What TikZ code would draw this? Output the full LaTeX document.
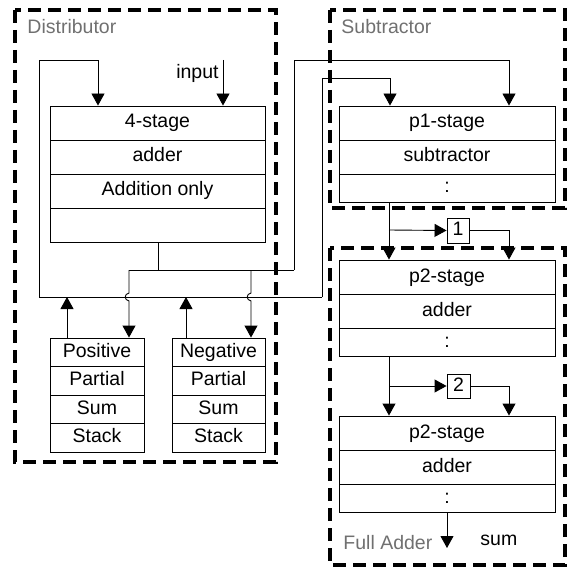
\documentclass[tikz,border=0pt]{standalone}
\usepackage{fontspec}
\setmainfont{Liberation Sans}
\usetikzlibrary{arrows.meta}
\definecolor{lblgray}{HTML}{707070}
\begin{document}
\begin{tikzpicture}[x=1pt,y=-1pt,line width=0.9pt,
  txt/.style={font=\fontsize{19.5}{22}\selectfont},
  cell/.style={draw=black, line width=0.9pt, inner sep=0pt, minimum width=216pt, minimum height=34pt, txt, text height=14pt, text depth=4pt},
  scell/.style={cell, minimum width=94pt, minimum height=28.5pt},
  small/.style={cell, minimum width=22pt, minimum height=25pt},
  arr/.style={-{Triangle[length=12pt,width=13pt]}},
  grp/.style={line width=3.2pt, dash pattern=on 13pt off 7pt},
  grplbl/.style={txt, text=lblgray, anchor=west, inner sep=0pt}
]
\useasboundingbox (0,0) rectangle (576,567);

% group frames
\draw[grp] (15,10) rectangle (276,462);
\draw[grp] (330,10) rectangle (565,208);
\draw[grp] (330,248) rectangle (565,565);
\node[grplbl] (gD) at (27,27) {Distributor};
\node[grplbl] (gS) at (341,27) {Subtractor};
\node[grplbl] (gF) at (343,543) {Full Adder};

% 4-stage adder
\node[cell, minimum width=215pt] (a1) at (157.5,123) {4-stage};
\node[cell, minimum width=215pt] (a2) at (157.5,157) {adder};
\node[cell, minimum width=215pt] (a3) at (157.5,191) {Addition only};
\node[cell, minimum width=215pt] (a4) at (157.5,225) {};

% stacks
\node[scell] (pa) at (97,352.25) {Positive};
\node[scell] (pb) at (97,380.75) {Partial};
\node[scell] (pc) at (97,409.25) {Sum};
\node[scell] (pd) at (97,437.75) {Stack};
\node[scell, minimum width=93pt] (na) at (218.5,352.25) {Negative};
\node[scell, minimum width=93pt] (nb) at (218.5,380.75) {Partial};
\node[scell, minimum width=93pt] (nc) at (218.5,409.25) {Sum};
\node[scell, minimum width=93pt] (nd) at (218.5,437.75) {Stack};

% p1 subtractor
\node[cell] (b1) at (447,123) {p1-stage};
\node[cell] (b2) at (447,157) {subtractor};
\node[cell, minimum height=28pt] (b3) at (447,188) {:};

% p2 adders
\node[cell] (c1) at (447,277) {p2-stage};
\node[cell] (c2) at (447,311) {adder};
\node[cell, minimum height=28pt] (c3) at (447,342) {:};
\node[cell] (d1) at (447,433) {p2-stage};
\node[cell] (d2) at (447,467) {adder};
\node[cell, minimum height=28pt] (d3) at (447,498) {:};

% delay boxes
\node[small] (k1) at (458,230.5) {1};
\node[small, minimum width=23pt, minimum height=24pt] (k2) at (458.5,386) {2};

% feedback bus from stacks
\coordinate (busL) at (39,297);
\coordinate (busR) at (322,297);
\coordinate (fbT) at (39,60);
\coordinate (sbT) at (322,78);
\coordinate (up1) at (67,297);
\coordinate (up2) at (186,297);
\draw (busL) -- (busR);
\draw[arr] (busL) -- (fbT) -| ([xshift=-59.5pt]a1.north);
\draw[arr] (busR) -- (sbT) -| ([xshift=-57pt]b1.north);
\draw[arr] (pa.north -| up1) -- (up1);
\draw[arr] (na.north -| up2) -- (up2);

% input
\coordinate (inT) at (223,60);
\draw[arr] (inT) -- ([xshift=65.5pt]a1.north);
\node[txt, anchor=east, inner sep=0pt] (inl) at (219,73) {input};

% adder output distribution
\coordinate (oj) at (158,270);
\coordinate (hL) at (129,270);
\coordinate (hN) at (251,270);
\coordinate (hR) at (294,270);
\coordinate (sT) at (294,60);
\draw (a4.south -| oj) -- (oj);
\draw (hL) -- (hR);
\draw[arr] (hL) -- (129,293) .. controls (124,294) and (124,300) .. (129,301) -- (pa.north -| hL);
\draw[arr] (hN) -- (251,293) .. controls (246,294) and (246,300) .. (251,301) -- (na.north -| hN);
\draw[arr] (hR) -- (sT) -| ([xshift=62pt]b1.north);

% p1 -> p2
\coordinate (br1) at (389,230);
\draw[arr] ([xshift=-58pt]b3.south) -- ([xshift=-58pt]c1.north);
\draw[arr] (br1) -- (k1.west);
\draw[arr] (k1.east) -| ([xshift=62pt]c1.north);

% p2 -> p2
\coordinate (br2) at (389,386);
\draw[arr] ([xshift=-58pt]c3.south) -- ([xshift=-58pt]d1.north);
\draw[arr] (br2) -- (k2.west);
\draw[arr] (k2.east) -| ([xshift=62pt]d1.north);

% sum output
\coordinate (sumE) at (447,548);
\draw[arr] (d3.south) -- (sumE);
\node[txt, anchor=west, inner sep=0pt] (suml) at (480,540) {sum};
\end{tikzpicture}
\end{document}
